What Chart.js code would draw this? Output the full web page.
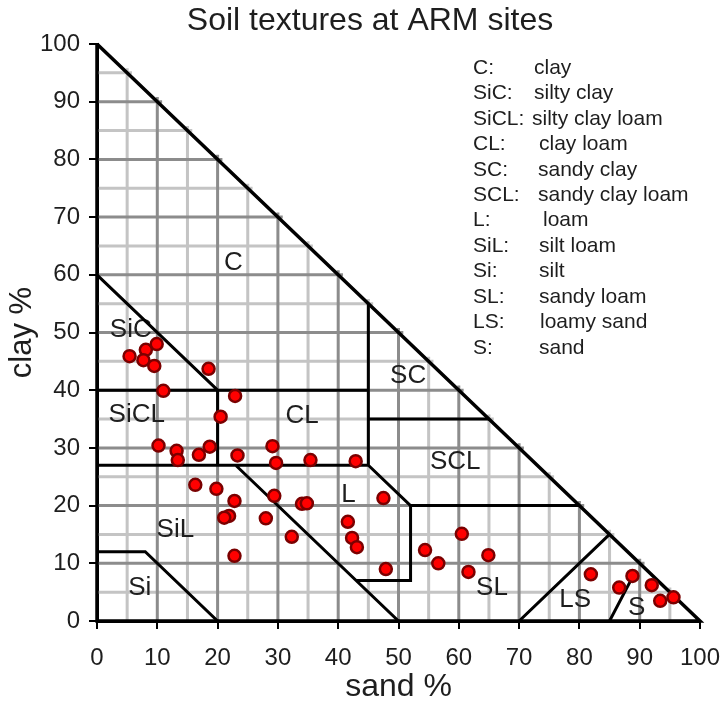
<!DOCTYPE html>
<html>
<head>
<meta charset="utf-8">
<script src="https://cdn.jsdelivr.net/npm/chart.js@4.4.1/dist/chart.umd.min.js"></script>
<style>
  html, body { margin: 0; padding: 0; background: #fff; }
</style>
</head>
<body>
<canvas id="soilChart" width="723" height="706"></canvas>
<script>
// site samples: sand % (x) and clay % (y)
const sand = [5.4, 8.1, 9.9, 7.7, 9.5, 18.5, 11.0, 22.9, 20.5, 10.2,
              13.2, 13.4, 16.9, 18.7, 23.3, 29.1, 29.7, 35.4, 42.9, 16.3,
              19.8, 22.8, 21.9, 21.1, 29.4, 28.0, 34.0, 34.8, 32.3, 22.8,
              47.5, 41.6, 42.3, 43.1, 47.9, 54.4, 56.6, 60.5, 61.6, 64.9,
              81.9, 86.6, 88.8, 92.0, 93.4, 95.6];
const clay = [45.9, 47.0, 48.0, 45.2, 44.2, 43.7, 39.9, 39.0, 35.4, 30.4,
              29.5, 27.9, 28.8, 30.2, 28.7, 30.3, 27.4, 27.9, 27.7, 23.6,
              22.9, 20.8, 18.2, 17.9, 21.7, 17.8, 20.3, 20.4, 14.6, 11.3,
              21.3, 17.2, 14.4, 12.8, 9.0, 12.3, 10.0, 15.1, 8.5, 11.4,
              8.1, 5.8, 7.8, 6.2, 3.5, 4.1];

const tickValues = [0, 10, 20, 30, 40, 50, 60, 70, 80, 90, 100];
const gridSteps = [5, 10, 15, 20, 25, 30, 35, 40, 45, 50, 55, 60, 65, 70, 75, 80, 85, 90, 95];

// texture triangle outline and class boundaries, as [sand, clay] vertices
const outline = [[0, 100], [0, 0], [100, 0], [0, 100]];
const boundaries = [
  [[0, 60], [20, 40]],
  [[0, 40], [45, 40]],
  [[20, 40], [20, 27]],
  [[0, 27], [45, 27]],
  [[45, 55], [45, 27]],
  [[45, 35], [65, 35]],
  [[45, 27], [52, 20], [52, 7], [43, 7]],
  [[52, 20], [80, 20]],
  [[23, 27], [50, 0]],
  [[0, 12], [8, 12], [20, 0]],
  [[70, 0], [85, 15]],
  [[85, 0], [88.5, 7]]
];

const regionLabels = [
  { text: 'C', sand: 22.6, clay: 62 },
  { text: 'SiC', sand: 5.6, clay: 50.4 },
  { text: 'SiCL', sand: 6.6, clay: 35.7 },
  { text: 'CL', sand: 34, clay: 35.5 },
  { text: 'SC', sand: 51.6, clay: 42.5 },
  { text: 'SCL', sand: 59.4, clay: 27.6 },
  { text: 'L', sand: 41.7, clay: 21.8 },
  { text: 'SiL', sand: 13, clay: 15.8 },
  { text: 'Si', sand: 7.1, clay: 5.7 },
  { text: 'SL', sand: 65.5, clay: 5.7 },
  { text: 'LS', sand: 79.3, clay: 3.6 },
  { text: 'S', sand: 89.5, clay: 2.3 }
];

const chartTitle = 'Soil textures at ARM sites';
const legendCodes = ['C:', 'SiC:', 'SiCL:', 'CL:', 'SC:', 'SCL:', 'L:', 'SiL:', 'Si:', 'SL:', 'LS:', 'S:'];
const legendNames = ['clay', 'silty clay', 'silty clay loam', 'clay loam', 'sandy clay', 'sandy clay loam',
                     'loam', 'silt loam', 'silt', 'sandy loam', 'loamy sand', 'sand'];
const legendNameX = [534, 534, 532, 539, 538, 538, 543, 539, 539, 539, 540, 539];

const FONT = '"Liberation Sans", Arial, Helvetica, sans-serif';
const TEXT = '#1e1e1e';

function toPolyline(lines) {
  const pts = [];
  lines.forEach(line => {
    line.forEach(p => pts.push({ x: p[0], y: p[1] }));
    pts.push({ x: line[line.length - 1][0], y: null });
  });
  return pts;
}

// grid lines only inside the triangle
const gridFine = [], gridMajor = [];
gridSteps.forEach(v => {
  const target = v % 10 === 0 ? gridMajor : gridFine;
  target.push({ x: v, y: 0 }, { x: v, y: 100.8 - v }, { x: v, y: null });
  target.push({ x: 0, y: v }, { x: 100.8 - v, y: v }, { x: 0, y: null });
});

const points = sand.map((s, i) => ({ x: s, y: clay[i] }));

const textPlugin = {
  id: 'soilText',
  afterDatasetDraw(chart, args) {
    if (chart.data.datasets[args.index].label !== 'grid10') return;
    const { ctx, scales: { x, y } } = chart;
    ctx.save();
    ctx.fillStyle = TEXT;
    ctx.font = '26px ' + FONT;
    ctx.textAlign = 'center';
    ctx.textBaseline = 'middle';
    regionLabels.forEach(l => {
      ctx.fillText(l.text, x.getPixelForValue(l.sand), y.getPixelForValue(l.clay));
    });
    ctx.restore();
  },
  afterDraw(chart) {
    const ctx = chart.ctx;
    ctx.save();
    ctx.fillStyle = TEXT;
    ctx.textBaseline = 'middle';
    ctx.textAlign = 'center';
    ctx.font = '32px ' + FONT;
    ctx.fillText(chartTitle, 370, 21);

    ctx.textAlign = 'left';
    ctx.font = '21px ' + FONT;
    legendCodes.forEach((c, i) => {
      const yy = 68 + i * 25.45;
      ctx.fillText(c, 473, yy);
      ctx.fillText(legendNames[i], legendNameX[i], yy);
    });
    ctx.restore();
  }
};

new Chart(document.getElementById('soilChart'), {
  type: 'scatter',
  data: {
    datasets: [
      {
        label: 'sites',
        data: points,
        pointRadius: 6,
        pointBackgroundColor: '#ff0000',
        pointBorderColor: '#7a0000',
        pointBorderWidth: 2.5,
        clip: false
      },
      {
        label: 'outline',
        data: toPolyline([outline]),
        showLine: true,
        pointRadius: 0,
        borderColor: '#000',
        borderWidth: 3.5,
        borderJoinStyle: 'miter',
        spanGaps: false,
        clip: false
      },
      {
        label: 'classes',
        data: toPolyline(boundaries),
        showLine: true,
        pointRadius: 0,
        borderColor: '#000',
        borderWidth: 3,
        spanGaps: false
      },
      {
        label: 'grid10',
        data: gridMajor,
        showLine: true,
        pointRadius: 0,
        borderColor: '#8c8c8c',
        borderWidth: 3,
        spanGaps: false
      },
      {
        label: 'grid5',
        data: gridFine,
        showLine: true,
        pointRadius: 0,
        borderColor: '#c4c4c4',
        borderWidth: 3,
        spanGaps: false
      }
    ]
  },
  options: {
    responsive: false,
    animation: false,
    events: [],
    layout: { padding: { top: 44, right: 23 } },
    plugins: {
      legend: { display: false },
      tooltip: { enabled: false },
      title: { display: false }
    },
    scales: {
      x: {
        type: 'linear',
        min: 0,
        max: 100,
        afterBuildTicks: s => { s.ticks = tickValues.map(v => ({ value: v })); },
        ticks: { color: TEXT, font: { family: FONT, size: 24 }, padding: 15 },
        grid: { drawOnChartArea: false, drawTicks: true, tickLength: 8, color: '#000', lineWidth: 2 },
        border: { display: true, color: '#000', width: 3 },
        title: { display: true, text: 'sand %', color: TEXT, font: { family: FONT, size: 32 }, padding: { top: 0, bottom: 0 } },
        afterFit: s => { s.height = 85; s.paddingLeft = 0; s.paddingRight = 0; }
      },
      y: {
        type: 'linear',
        min: 0,
        max: 100,
        afterBuildTicks: s => { s.ticks = tickValues.map(v => ({ value: v })); },
        ticks: { color: TEXT, font: { family: FONT, size: 24 }, padding: 9 },
        grid: { drawOnChartArea: false, drawTicks: true, tickLength: 8, color: '#000', lineWidth: 2 },
        border: { display: true, color: '#000', width: 3 },
        title: { display: true, text: 'clay %', color: TEXT, font: { family: FONT, size: 31 }, padding: { top: 4, bottom: 0 } },
        afterFit: s => { s.width = 97; s.paddingTop = 0; s.paddingBottom = 0; }
      }
    }
  },
  plugins: [textPlugin]
});
</script>
</body>
</html>
